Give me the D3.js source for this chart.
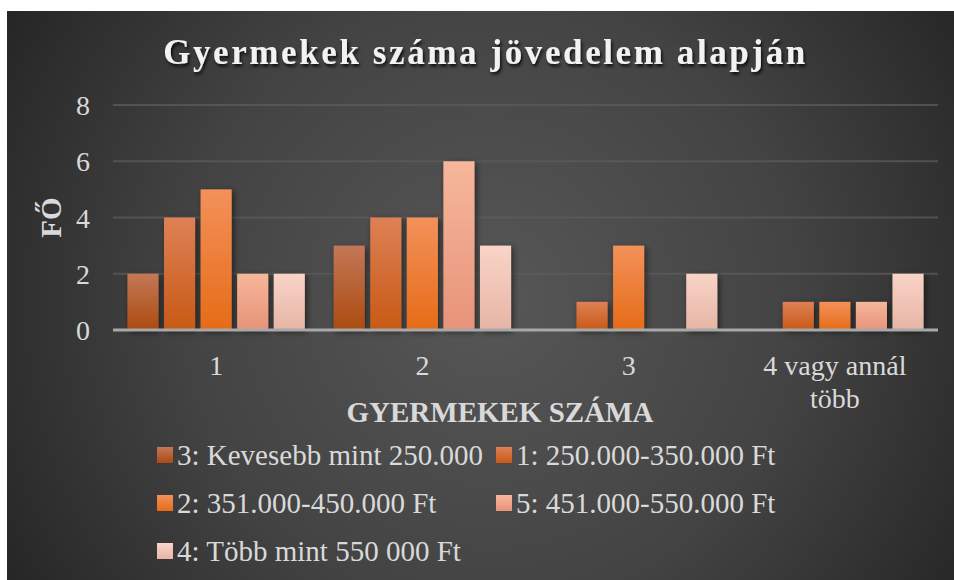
<!DOCTYPE html>
<html>
<head>
<meta charset="utf-8">
<script src="https://cdn.jsdelivr.net/npm/d3@7"></script>
<style>
  html, body { margin: 0; padding: 0; background: #ffffff; }
  svg { display: block; }
  text { font-family: "Liberation Serif", "Times New Roman", serif; }
</style>
</head>
<body>
<svg id="chart" width="954" height="580"></svg>
<script>
// ---- data ----
const categories = ["1", "2", "3", "4 vagy annál több"];
const seriesNames = [
  "3: Kevesebb mint 250.000",
  "1: 250.000-350.000 Ft",
  "2: 351.000-450.000 Ft",
  "5: 451.000-550.000 Ft",
  "4: Több mint 550 000 Ft"
];
const s3Values = [2, 3, 0, 0];
const s1Values = [4, 4, 1, 1];
const s2Values = [5, 4, 3, 1];
const s5Values = [2, 6, 0, 1];
const s4Values = [2, 3, 2, 2];
const yTicks = [0, 2, 4, 6, 8];
const chartTitle = "Gyermekek száma jövedelem alapján";
const xTitle = "GYERMEKEK SZÁMA";
const yTitle = "FŐ";

const seriesValues = [s3Values, s1Values, s2Values, s5Values, s4Values];
const seriesColors = [
  ["#c47757", "#ab4b10"],
  ["#de8056", "#c85915"],
  ["#f3915a", "#e66b17"],
  ["#f6b79a", "#e79379"],
  ["#f9d4c7", "#e6b5a5"]
];

// ---- layout ----
const W = 954, H = 580;
const frame = { x: 7, y: 11, w: 947, h: 569 };
const plot = { left: 113, right: 938, top: 105, bottom: 330 };

const svg = d3.select("#chart");
const defs = svg.append("defs");

const bg = defs.append("radialGradient").attr("id", "bg")
  .attr("gradientUnits", "userSpaceOnUse")
  .attr("cx", 490).attr("cy", 300).attr("r", 560);
bg.append("stop").attr("offset", "0%").attr("stop-color", "#575757");
bg.append("stop").attr("offset", "55%").attr("stop-color", "#434343");
bg.append("stop").attr("offset", "100%").attr("stop-color", "#262626");

seriesColors.forEach((c, i) => {
  const g = defs.append("linearGradient").attr("id", "g" + i)
    .attr("x1", 0).attr("y1", 0).attr("x2", 0).attr("y2", 1);
  g.append("stop").attr("offset", "0%").attr("stop-color", c[0]);
  g.append("stop").attr("offset", "100%").attr("stop-color", c[1]);
});

const shadow = defs.append("filter").attr("id", "shadow")
  .attr("x", "-30%").attr("y", "-30%").attr("width", "160%").attr("height", "160%");
shadow.append("feDropShadow").attr("dx", 2).attr("dy", 2)
  .attr("stdDeviation", 3).attr("flood-color", "#000").attr("flood-opacity", 0.55);

const tshadow = defs.append("filter").attr("id", "tshadow")
  .attr("x", "-10%").attr("y", "-30%").attr("width", "120%").attr("height", "160%");
tshadow.append("feDropShadow").attr("dx", 1.5).attr("dy", 2.5)
  .attr("stdDeviation", 1.5).attr("flood-color", "#000").attr("flood-opacity", 0.8);

svg.append("rect")
  .attr("x", frame.x).attr("y", frame.y).attr("width", frame.w).attr("height", frame.h)
  .attr("fill", "url(#bg)");

// ---- scales ----
const y = d3.scaleLinear().domain([0, 8]).range([plot.bottom, plot.top]);
const x0 = d3.scaleBand().domain(categories).range([plot.left, plot.right]).padding(0);
const bw = x0.bandwidth();
const x1 = d3.scaleBand().domain(d3.range(seriesNames.length))
  .range([bw * 0.07, bw * 0.93]).paddingInner(0.15);

// gridlines
svg.append("g").selectAll("line").data(yTicks.filter(d => d > 0)).join("line")
  .attr("x1", plot.left).attr("x2", plot.right)
  .attr("y1", d => y(d)).attr("y2", d => y(d))
  .attr("stroke", "#5c5c5c").attr("stroke-width", 2).attr("stroke-opacity", 0.75);

// y axis labels
const yAxis = svg.append("g").attr("transform", `translate(${plot.left},0)`)
  .call(d3.axisLeft(y).tickValues(yTicks).tickSize(0).tickPadding(23));
yAxis.select(".domain").remove();
yAxis.selectAll("text")
  .attr("font-family", "Liberation Serif, serif")
  .attr("font-size", 28).attr("fill", "#d9d9d9").attr("dy", "0.34em");

// bars
const groups = svg.append("g").selectAll("g").data(categories).join("g")
  .attr("transform", d => `translate(${x0(d)},0)`);
groups.selectAll("rect")
  .data((c, ci) => seriesValues.map((vals, si) => ({ si, v: vals[ci] })).filter(d => d.v > 0))
  .join("rect")
  .attr("x", d => x1(d.si))
  .attr("width", x1.bandwidth())
  .attr("y", d => y(d.v))
  .attr("height", d => y(0) - y(d.v))
  .attr("fill", d => `url(#g${d.si})`)
  .attr("filter", "url(#shadow)");

// x axis line
svg.append("line")
  .attr("x1", plot.left).attr("x2", plot.right)
  .attr("y1", y(0)).attr("y2", y(0))
  .attr("stroke", "#a8a8a8").attr("stroke-width", 3);

// x axis labels
const xAxis = svg.append("g").attr("transform", `translate(0,${plot.bottom})`)
  .call(d3.axisBottom(x0).tickSize(0).tickPadding(0));
xAxis.select(".domain").remove();
xAxis.selectAll("text")
  .attr("font-family", "Liberation Serif, serif")
  .attr("font-size", 28).attr("fill", "#d9d9d9")
  .attr("dy", null)
  .each(function (d) {
    const t = d3.select(this);
    const words = d.split(" ");
    const lines = [];
    let cur = [];
    t.text(null);
    const probe = t.append("tspan");
    words.forEach(w => {
      const test = cur.concat([w]).join(" ");
      probe.text(test);
      if (probe.node().getComputedTextLength() > bw * 0.85 && cur.length) {
        lines.push(cur.join(" "));
        cur = [w];
      } else cur.push(w);
    });
    lines.push(cur.join(" "));
    probe.remove();
    lines.forEach((ln, i) => {
      t.append("tspan").attr("x", 0).attr("y", 45 + i * 33).text(ln);
    });
  });

// title
svg.append("text")
  .attr("x", (frame.x + W) / 2 + 5).attr("y", 64)
  .attr("text-anchor", "middle")
  .attr("font-size", 35).attr("font-weight", "bold")
  .attr("letter-spacing", 2.6)
  .attr("fill", "#f2f2f2")
  .attr("filter", "url(#tshadow)")
  .text(chartTitle);

// axis titles
svg.append("text")
  .attr("x", 500).attr("y", 422)
  .attr("text-anchor", "middle")
  .attr("font-size", 29).attr("font-weight", "bold")
  .attr("fill", "#d9d9d9")
  .text(xTitle);

svg.append("text")
  .attr("transform", `translate(51,${(plot.top + plot.bottom) / 2}) rotate(-90)`)
  .attr("text-anchor", "middle").attr("dy", "0.34em")
  .attr("font-size", 29).attr("font-weight", "bold")
  .attr("fill", "#d9d9d9")
  .text(yTitle);

// legend
const legendPos = [
  { x: 157, y: 455 }, { x: 496, y: 455 },
  { x: 157, y: 503 }, { x: 496, y: 503 },
  { x: 157, y: 551 }
];
const lg = svg.append("g").selectAll("g").data(seriesNames).join("g")
  .attr("transform", (d, i) => `translate(${legendPos[i].x},${legendPos[i].y})`);
lg.append("rect")
  .attr("x", 0).attr("y", -8).attr("width", 16).attr("height", 16)
  .attr("fill", (d, i) => `url(#g${i})`);
lg.append("text")
  .attr("x", 20).attr("dy", "0.34em")
  .attr("font-size", 29).attr("fill", "#d9d9d9")
  .text(d => d);
</script>
</body>
</html>
